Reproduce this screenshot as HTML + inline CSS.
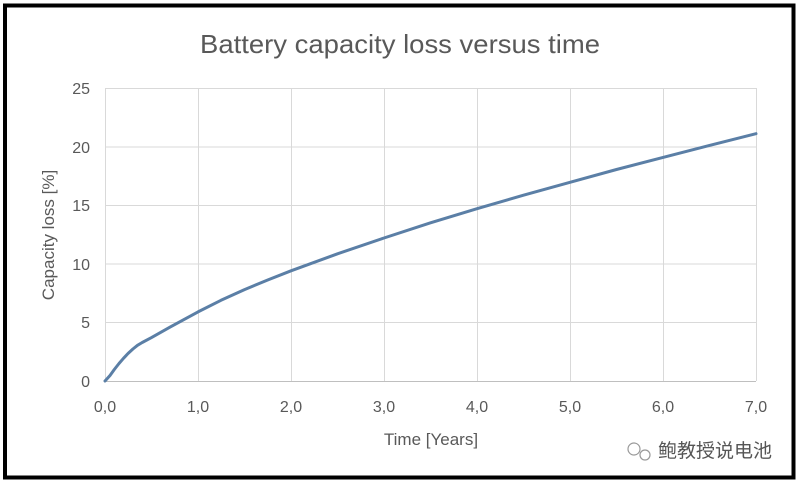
<!DOCTYPE html>
<html><head><meta charset="utf-8"><style>
html,body{margin:0;padding:0;background:#fff;}
body{width:798px;height:484px;overflow:hidden;position:relative;}
</style></head><body>
<svg width="798" height="484" viewBox="0 0 798 484" xmlns="http://www.w3.org/2000/svg" style="position:absolute;left:0;top:0">
<rect x="0" y="0" width="798" height="484" fill="#fff"/>
<rect x="5" y="5.5" width="788.5" height="472" fill="none" stroke="#000" stroke-width="4"/>
<g stroke="#d9d9d9" stroke-width="1" fill="none">
<line x1="105" y1="88.5" x2="756" y2="88.5"/>
<line x1="105" y1="147" x2="756" y2="147"/>
<line x1="105" y1="205.5" x2="756" y2="205.5"/>
<line x1="105" y1="264" x2="756" y2="264"/>
<line x1="105" y1="322.5" x2="756" y2="322.5"/>
<line x1="105.5" y1="88" x2="105.5" y2="381"/>
<line x1="198.5" y1="88" x2="198.5" y2="381"/>
<line x1="291.5" y1="88" x2="291.5" y2="381"/>
<line x1="384.5" y1="88" x2="384.5" y2="381"/>
<line x1="477.5" y1="88" x2="477.5" y2="381"/>
<line x1="570.5" y1="88" x2="570.5" y2="381"/>
<line x1="663.5" y1="88" x2="663.5" y2="381"/>
<line x1="756.5" y1="88" x2="756.5" y2="381"/>
</g>
<line x1="105" y1="381.5" x2="756" y2="381.5" stroke="#bfbfbf" stroke-width="1"/>
<polyline fill="none" stroke="#5b7fa6" stroke-width="3" stroke-linejoin="round" stroke-linecap="round" points="105,381 110,375.5 114.3,369.5 119,363.5 123.6,358.2 128,353.5 132.9,349 137.5,345.3 142.2,342.5 151.5,337.6 170.1,327.1 198,311.9 221,300.3 244.5,289.6 268,279.9 291,270.8 337.5,253.8 384,238 430.5,222.8 477,208.7 523.5,195.2 570,182.3 616.5,169.5 663,157.4 709.5,145.4 756,133.7"/>
<g font-family="Liberation Sans, sans-serif" fill="#595959">
<text x="400" y="53" font-size="26" text-anchor="middle" textLength="400" lengthAdjust="spacingAndGlyphs">Battery capacity loss versus time</text>
<g font-size="16" text-anchor="end">
<text x="90" y="94">25</text>
<text x="90" y="153">20</text>
<text x="90" y="211">15</text>
<text x="90" y="270">10</text>
<text x="90" y="328">5</text>
<text x="90" y="387">0</text>
</g>
<g font-size="16" text-anchor="middle">
<text x="105" y="412">0,0</text>
<text x="198" y="412">1,0</text>
<text x="291" y="412">2,0</text>
<text x="384" y="412">3,0</text>
<text x="477" y="412">4,0</text>
<text x="570" y="412">5,0</text>
<text x="663" y="412">6,0</text>
<text x="756" y="412">7,0</text>
</g>
<text x="431" y="445" font-size="17" text-anchor="middle">Time [Years]</text>
<text transform="translate(54,235) rotate(-90)" font-size="17" text-anchor="middle">Capacity loss [%]</text>
</g>
<g stroke="#999" fill="none" stroke-width="1.2">
<circle cx="634" cy="449" r="6"/>
<circle cx="645" cy="455" r="5"/>
</g>
<text x="658" y="457" font-family="Liberation Sans, 'Noto Sans CJK SC', sans-serif" font-size="19" fill="#555">鲍教授说电池</text>
</svg>
</body></html>
